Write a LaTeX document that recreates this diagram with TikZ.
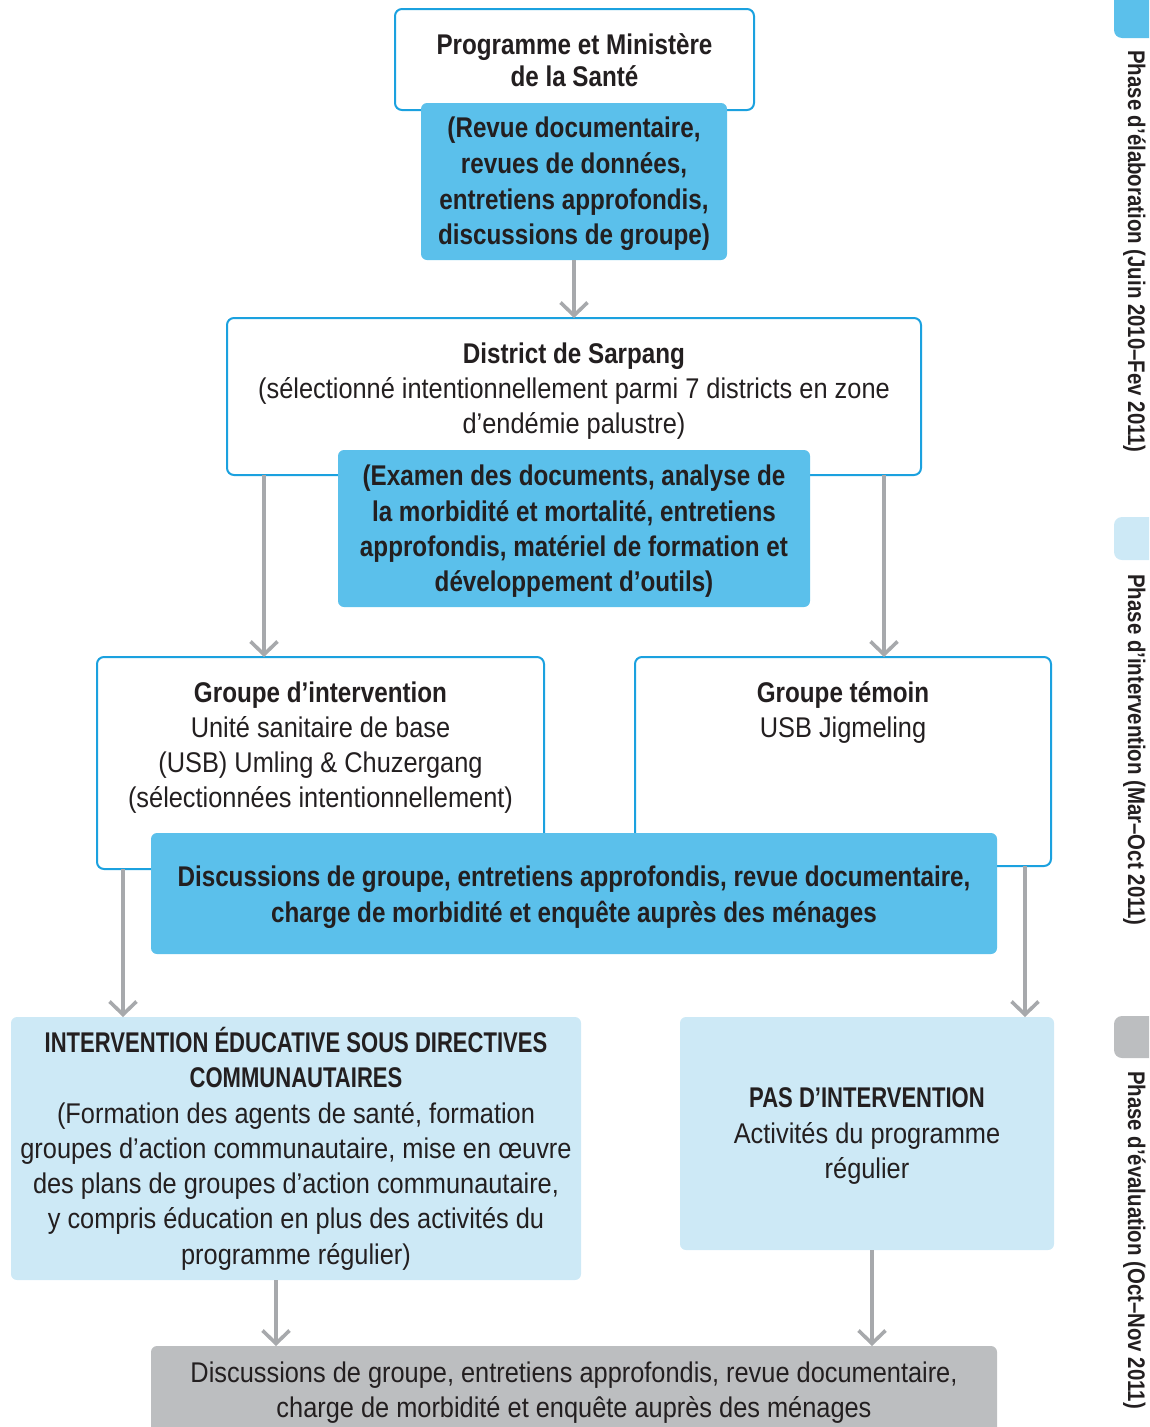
\documentclass[tikz,border=0pt]{standalone}
\usepackage{fontspec}
\setmainfont{Liberation Sans}[UprightFeatures={FakeStretch=0.89}, BoldFeatures={FakeStretch=0.85}, ItalicFeatures={FakeStretch=0.89}, BoldItalicFeatures={FakeStretch=0.85}]
\usetikzlibrary{arrows.meta}
\definecolor{bordblue}{HTML}{1BA1DF}
\definecolor{fillblue}{HTML}{5BC0EB}
\definecolor{lightblue}{HTML}{CDE9F6}
\definecolor{greyfill}{HTML}{BCBEC0}
\definecolor{arrowgrey}{HTML}{A7A9AC}
\definecolor{txtc}{HTML}{231F20}
\newcommand{\capsline}[1]{\scalebox{0.91}[1]{#1}}
\begin{document}
\begin{tikzpicture}[x=1pt,y=-1pt,
  wbox/.style={draw=bordblue, line width=2pt, fill=white, rounded corners=7pt, inner sep=0pt, outer sep=0pt},
  bbox/.style={fill=fillblue, rounded corners=6pt, inner sep=0pt, outer sep=0pt},
  lbbox/.style={fill=lightblue, rounded corners=6pt, inner sep=0pt, outer sep=0pt},
  gbox/.style={fill=greyfill, rounded corners=6pt, inner sep=0pt, outer sep=0pt},
  tabbox/.style={rounded corners=8pt, inner sep=0pt, outer sep=0pt, minimum width=56pt},
  txtn/.style={text=txtc, align=center, inner sep=0pt, font=\fontsize{28.5}{35.3}\selectfont},
  phase/.style={text=txtc, inner sep=0pt, rotate=-90, anchor=base, font=\bfseries\fontsize{24}{28}\selectfont},
  arr/.style={draw=arrowgrey, line width=3.6pt, -{Straight Barb[length=13pt, width=27pt]}},
]
\useasboundingbox (0,0) rectangle (1149,1427);
\clip (0,0) rectangle (1149,1427);

% phase tabs
\node[tabbox, fill=fillblue, minimum height=58pt] (tab1) at (1142,9) {};
\node[tabbox, fill=lightblue, minimum height=43pt] (tab2) at (1142,538.5) {};
\node[tabbox, fill=greyfill, minimum height=42pt] (tab3) at (1142,1037) {};
\node[phase] (ph1) at (1128,251.5) {Phase d’élaboration (Juin 2010–Fev 2011)};
\node[phase] (ph2) at (1128,750) {Phase d’intervention (Mar–Oct 2011)};
\node[phase] (ph3) at (1128,1240) {Phase d’évaluation (Oct–Nov 2011)};

% level 1
\node[wbox, minimum width=359pt, minimum height=101pt] (A) at (574.5,59.5) {};
\node[txtn, font=\bfseries\fontsize{28.5}{32}\selectfont] (tA) at (574.5,60) {Programme et Ministère\\de la Santé};
\node[bbox, minimum width=306pt, minimum height=157pt] (B) at (574,181.5) {};
\node[txtn, font=\bfseries\fontsize{28.5}{35.7}\selectfont] (tB) at (574,184) {(Revue documentaire,\\revues de données,\\entretiens approfondis,\\discussions de groupe)};

% level 2
\node[wbox, minimum width=694pt, minimum height=157pt] (dist) at (574,396.5) {};
\node[txtn] (tdist) at (574,391) {\textbf{District de Sarpang}\\(sélectionné intentionnellement parmi 7 districts en zone\\d’endémie palustre)};
\node[bbox, minimum width=472pt, minimum height=157pt] (C) at (574,528.5) {};
\node[txtn, font=\bfseries\fontsize{28.5}{35.3}\selectfont] (tC) at (574,531.5) {(Examen des documents, analyse de\\la morbidité et mortalité, entretiens\\approfondis, matériel de formation et\\développement d’outils)};

% level 3
\node[wbox, minimum width=447pt, minimum height=212pt] (GI) at (320.5,763) {};
\node[txtn] (tGI) at (320.5,747.6) {\textbf{Groupe d’intervention}\\Unité sanitaire de base\\(USB) Umling \& Chuzergang\\(sélectionnées intentionnellement)};
\node[wbox, minimum width=416pt, minimum height=209pt] (GT) at (843,761.5) {};
\node[txtn] (tGT) at (843,712.2) {\textbf{Groupe témoin}\\USB Jigmeling};
\node[bbox, minimum width=846pt, minimum height=121pt] (D) at (574,893.5) {};
\node[txtn, font=\bfseries\fontsize{28.5}{35.3}\selectfont] (tD) at (574,897.2) {Discussions de groupe, entretiens approfondis, revue documentaire,\\charge de morbidité et enquête auprès des ménages};

% level 4
\node[lbbox, minimum width=570pt, minimum height=263pt] (E) at (296,1148.5) {};
\node[txtn] (tE) at (296,1148.7) {\capsline{\textbf{INTERVENTION ÉDUCATIVE SOUS DIRECTIVES}}\\\capsline{\textbf{COMMUNAUTAIRES}}\\(Formation des agents de santé, formation\\groupes d’action communautaire, mise en œuvre\\des plans de groupes d’action communautaire,\\y compris éducation en plus des activités du\\programme régulier)};
\node[lbbox, minimum width=374pt, minimum height=233pt] (F) at (867,1133.5) {};
\node[txtn] (tF) at (867,1136.1) {\capsline{\textbf{PAS D’INTERVENTION}}\\Activités du programme\\régulier};

% level 5
\node[gbox, minimum width=846pt, minimum height=120pt] (G) at (574,1406) {};
\node[txtn] (tG) at (574,1392.3) {Discussions de groupe, entretiens approfondis, revue documentaire,\\charge de morbidité et enquête auprès des ménages};

% connectors
\coordinate (x1) at (264,0);
\coordinate (x2) at (884,0);
\coordinate (x3) at (123,0);
\coordinate (x4) at (1025,0);
\coordinate (x5) at (276,0);
\coordinate (x6) at (872,0);
\draw[arr] (B.south) -- (dist.north);
\draw[arr] (dist.south -| x1) -- (GI.north -| x1);
\draw[arr] (dist.south -| x2) -- (GT.north -| x2);
\draw[arr] (GI.south -| x3) -- (E.north -| x3);
\draw[arr] (GT.south -| x4) -- (F.north -| x4);
\draw[arr] (E.south -| x5) -- (G.north -| x5);
\draw[arr] (F.south -| x6) -- (G.north -| x6);
\end{tikzpicture}
\end{document}
